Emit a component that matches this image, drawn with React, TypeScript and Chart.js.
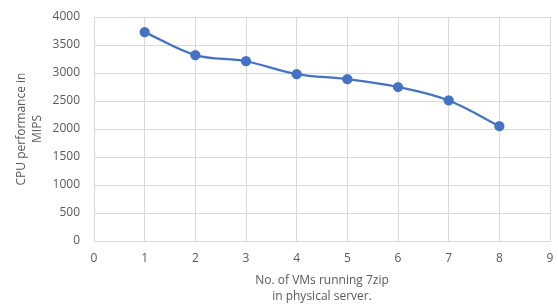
import React, { useEffect, useRef } from "react";
import { Chart, registerables } from "chart.js";

Chart.register(...registerables);

const vmCounts = [1, 2, 3, 4, 5, 6, 7, 8];
const cpuMips = [3730, 3320, 3210, 2980, 2890, 2750, 2510, 2050];
const xTitle = ["No. of VMs running 7zip", "in physical server."];
const yTitle = ["CPU performance in", "MIPS"];

const FONT = "'Open Sans', sans-serif";
const TEXT = "#595959";
const GRID = "#d9d9d9";
const BLUE = "#4472c4";

export default function App() {
  const ref = useRef<HTMLCanvasElement | null>(null);
  useEffect(() => {
    document.body.style.margin = "0";
    const ctx = ref.current!;
    const chart = new Chart(ctx, {
      type: "line",
      data: {
        datasets: [
          {
            data: vmCounts.map((x, i) => ({ x, y: cpuMips[i] })),
            borderColor: BLUE,
            backgroundColor: BLUE,
            borderWidth: 2.25,
            pointRadius: 4,
            pointBackgroundColor: BLUE,
            pointBorderColor: BLUE,
            tension: 0.35,
          },
        ],
      },
      options: {
        animation: false,
        responsive: false,
        maintainAspectRatio: false,
        layout: { padding: { top: 17, right: 8, left: 0, bottom: 0 } },
        plugins: { legend: { display: false }, tooltip: { enabled: false } },
        scales: {
          x: {
            type: "linear",
            min: 0,
            max: 9,
            ticks: {
              stepSize: 1,
              color: TEXT,
              font: { family: FONT, size: 12 },
              padding: 10,
              callback: (v: any) => String(v),
            },
            grid: { color: GRID, drawTicks: false },
            border: { color: GRID },
            title: {
              display: true,
              text: xTitle,
              color: TEXT,
              font: { family: FONT, size: 12, lineHeight: 1.375 },
              padding: { top: 0, bottom: 0 },
            },
            afterFit: (s: any) => {
              s.height = 64;
              s.paddingRight = 0;
              s.paddingLeft = 0;
            },
          },
          y: {
            min: 0,
            max: 4000,
            ticks: {
              stepSize: 500,
              color: TEXT,
              font: { family: FONT, size: 12 },
              padding: 14,
              callback: (v: any) => String(v),
            },
            grid: { color: GRID, drawTicks: false },
            border: { color: GRID },
            title: {
              display: true,
              text: yTitle,
              color: TEXT,
              font: { family: FONT, size: 12, lineHeight: 1.375 },
              padding: { top: 13, bottom: 0 },
            },
            afterFit: (s: any) => {
              s.width = 94;
              s.paddingTop = 0;
              s.paddingBottom = 0;
            },
          },
        },
      },
    } as any);
    return () => chart.destroy();
  }, []);
  return (
    <div style={{ position: "absolute", left: 0, top: 0, width: 558, height: 305, background: "#fff" }}>
      <canvas ref={ref} width={558} height={305} style={{ width: 558, height: 305 }} />
    </div>
  );
}
